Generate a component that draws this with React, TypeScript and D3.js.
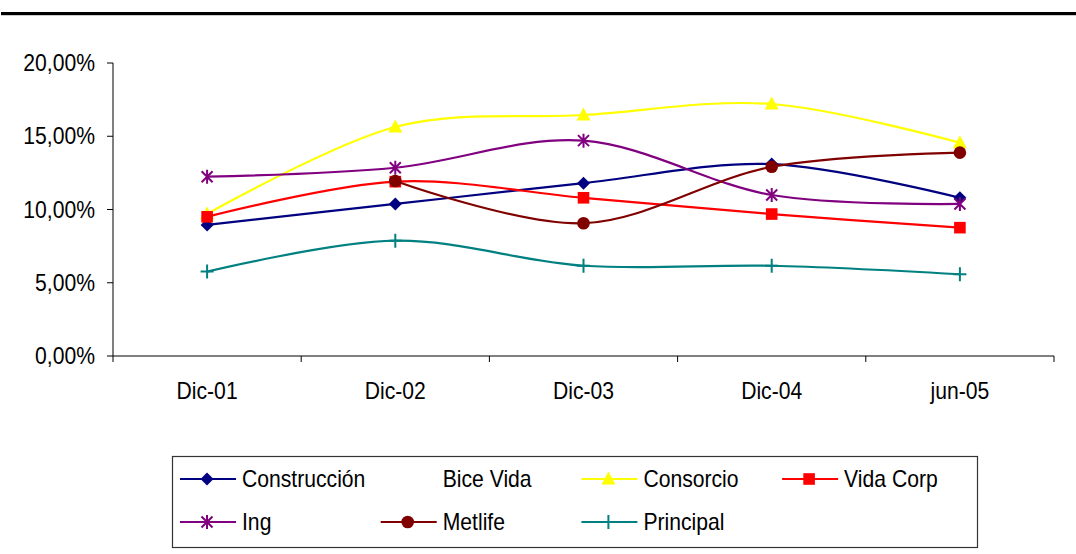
import React from "react";
import * as d3 from "d3";

// Categories on the x axis
const periods = ["Dic-01", "Dic-02", "Dic-03", "Dic-04", "jun-05"];

// Return series (fractions), null where no value is reported
const construccion = [0.0895, 0.1038, 0.118, 0.131, 0.108];
const biceVida: (number | null)[] = [null, null, null, null, null];
const consorcio = [0.097, 0.1563, 0.1645, 0.172, 0.1456];
const vidaCorp = [0.095, 0.119, 0.108, 0.0969, 0.0876];
const ing = [0.1224, 0.1285, 0.147, 0.1099, 0.1038];
const metlife = [null, 0.1195, 0.0906, 0.1292, 0.1388];
const principal = [0.0576, 0.0787, 0.0616, 0.0616, 0.0558];

const yTicks = [0, 0.05, 0.1, 0.15, 0.2];

type Marker = "diamond" | "none" | "triangle" | "square" | "star" | "circle" | "plus";

const series: { name: string; values: (number | null)[]; color: string; marker: Marker }[] = [
  { name: "Construcción", values: construccion, color: "#000080", marker: "diamond" },
  { name: "Bice Vida", values: biceVida, color: "#FF00FF", marker: "none" },
  { name: "Consorcio", values: consorcio, color: "#FFFF00", marker: "triangle" },
  { name: "Vida Corp", values: vidaCorp, color: "#FF0000", marker: "square" },
  { name: "Ing", values: ing, color: "#800080", marker: "star" },
  { name: "Metlife", values: metlife, color: "#800000", marker: "circle" },
  { name: "Principal", values: principal, color: "#008080", marker: "plus" },
];

const FONT = "'Liberation Sans', Arial, sans-serif";
const FONT_SIZE = 23;
const SQUEEZE = 0.92;

const pctFormat = d3.formatLocale({
  decimal: ",",
  thousands: ".",
  grouping: [3],
  currency: ["", "€"],
}).format(".2%");

// Slightly condensed label text
function Label({
  x,
  y,
  anchor = "start",
  children,
}: {
  x: number;
  y: number;
  anchor?: "start" | "middle" | "end";
  children: React.ReactNode;
}) {
  return (
    <text
      transform={`translate(${x},${y}) scale(${SQUEEZE},1)`}
      textAnchor={anchor}
      fontSize={FONT_SIZE}
      fill="#000"
    >
      {children}
    </text>
  );
}

function MarkerShape({ type, x, y, color }: { type: Marker; x: number; y: number; color: string }) {
  const s = 6.5;
  switch (type) {
    case "diamond":
      return <path d={`M${x},${y - s}L${x + s},${y}L${x},${y + s}L${x - s},${y}Z`} fill={color} />;
    case "square":
      return <rect x={x - 5.8} y={y - 5.8} width={11.6} height={11.6} fill={color} />;
    case "triangle":
      return <path d={`M${x},${y - 7.5}L${x + 7},${y + 5.5}L${x - 7},${y + 5.5}Z`} fill={color} />;
    case "circle":
      return <circle cx={x} cy={y} r={6.3} fill={color} />;
    case "star":
      return (
        <path
          d={`M${x - 5.5},${y - 5.5}L${x + 5.5},${y + 5.5}M${x - 5.5},${y + 5.5}L${x + 5.5},${y - 5.5}M${x},${y - 7}L${x},${y + 7}`}
          stroke={color}
          strokeWidth={2}
          fill="none"
        />
      );
    case "plus":
      return (
        <path
          d={`M${x - 6.5},${y}L${x + 6.5},${y}M${x},${y - 7}L${x},${y + 7}`}
          stroke={color}
          strokeWidth={2}
          fill="none"
        />
      );
    default:
      return null;
  }
}

export default function App() {
  const width = 1076;
  const height = 554;
  const left = 113;
  const right = 1054;
  const top = 63;
  const bottom = 356;

  const x = d3.scaleBand<string>().domain(periods).range([left, right]).padding(0);
  const cx = (p: string) => (x(p) ?? 0) + x.bandwidth() / 2;
  const y = d3.scaleLinear().domain([0, 0.2]).range([bottom, top]);

  const line = d3
    .line<{ p: string; v: number | null }>()
    .defined((d) => d.v != null)
    .x((d) => cx(d.p))
    .y((d) => y(d.v as number))
    .curve(d3.curveCardinal.tension(0));

  const boundaries = [...periods.map((p) => x(p) ?? 0), right];

  // Legend layout: 4 columns, 2 rows
  const legX0 = 180;
  const legColW = 200.7;
  const legRows = [479, 522];
  const textShift = FONT_SIZE * 0.35;

  return (
    <svg
      width={width}
      height={height}
      style={{ position: "absolute", left: 0, top: 0, background: "#fff" }}
      fontFamily={FONT}
    >
      <rect x={0} y={0} width={width} height={height} fill="#fff" />
      {/* heading rule */}
      <rect x={1} y={12} width={width - 1} height={3.2} fill="#000" />

      {/* y axis */}
      <line x1={left} x2={left} y1={top} y2={bottom} stroke="#000" strokeWidth={1} />
      {yTicks.map((t) => (
        <g key={t}>
          <line x1={left - 6} x2={left} y1={y(t)} y2={y(t)} stroke="#000" />
          <Label x={95} y={y(t) + textShift} anchor="end">
            {pctFormat(t)}
          </Label>
        </g>
      ))}

      {/* x axis */}
      <line x1={left} x2={right} y1={bottom} y2={bottom} stroke="#000" strokeWidth={1} />
      {boundaries.map((b, i) => (
        <line key={i} x1={b} x2={b} y1={bottom} y2={bottom + 6} stroke="#000" />
      ))}
      {periods.map((p) => (
        <Label key={p} x={cx(p)} y={399} anchor="middle">
          {p}
        </Label>
      ))}

      {/* series */}
      {series.map((s) => {
        const pts = periods.map((p, i) => ({ p, v: s.values[i] }));
        return (
          <g key={s.name}>
            <path d={line(pts) ?? ""} fill="none" stroke={s.color} strokeWidth={2.2} />
            {pts
              .filter((d) => d.v != null)
              .map((d) => (
                <MarkerShape key={d.p} type={s.marker} x={cx(d.p)} y={y(d.v as number)} color={s.color} />
              ))}
          </g>
        );
      })}

      {/* legend */}
      <rect x={172.5} y={456.5} width={805} height={91} fill="none" stroke="#333" strokeWidth={1.2} />
      {series.map((s, i) => {
        const col = i % 4;
        const row = Math.floor(i / 4);
        const lx = legX0 + col * legColW;
        const ly = legRows[row];
        return (
          <g key={s.name}>
            {s.marker !== "none" && (
              <>
                <line x1={lx} x2={lx + 56} y1={ly} y2={ly} stroke={s.color} strokeWidth={2.2} />
                <MarkerShape type={s.marker} x={lx + 27} y={ly} color={s.color} />
              </>
            )}
            <Label x={lx + 62} y={ly + textShift}>
              {s.name}
            </Label>
          </g>
        );
      })}
    </svg>
  );
}
